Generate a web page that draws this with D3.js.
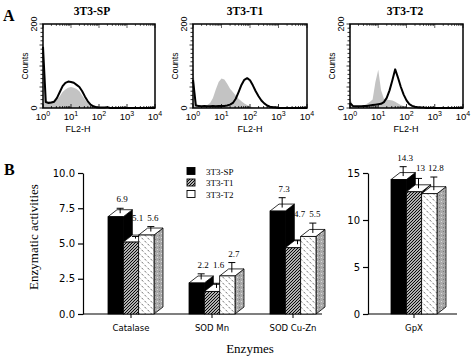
<!DOCTYPE html>
<html>
<head>
<meta charset="utf-8">
<script src="https://cdn.jsdelivr.net/npm/d3@7/dist/d3.min.js"></script>
<style>
  body { margin: 0; background: #fff; }
  svg { display: block; }
</style>
</head>
<body>
<svg id="fig" width="474" height="362"></svg>
<script>
// ---- data: panel A, flow cytometry histograms (log10 FL2-H channel vs counts)
var channels = [0, 0.1, 0.2, 0.3, 0.4, 0.5, 0.6, 0.7, 0.8, 0.9,
                1, 1.1, 1.2, 1.3, 1.4, 1.5, 1.6, 1.7, 1.8, 1.9,
                2, 2.1, 2.2, 2.3, 2.4, 2.5, 2.6, 2.7, 2.8, 2.9,
                3, 3.1, 3.2, 3.3, 3.4, 3.5, 3.6, 3.7, 3.8, 3.9, 4];

var spControl = [150, 18, 16, 16, 17, 20, 28, 38, 44, 48, 50, 48, 45, 40, 30, 20, 12, 6, 3, 1,
                 0, 0, 0, 0, 0, 0, 0, 0, 0, 0, 0, 0, 0, 0, 0, 0, 0, 0, 0, 0, 0];
var spStained = [146, 14, 12, 13, 15, 24, 38, 52, 60, 63, 62, 60, 55, 50, 40, 27, 16, 8, 4, 2,
                 1, 1, 1, 2, 0, 0, 0, 0, 0, 0, 0, 0, 0, 0, 0, 0, 0, 0, 0, 0, 0];
var t1Control = [115, 8, 5, 5, 5, 7, 12, 24, 44, 62, 70, 68, 58, 46, 38, 30, 22, 16, 11, 7,
                 4, 2, 1, 0, 0, 0, 0, 0, 0, 0, 0, 0, 0, 0, 0, 0, 0, 0, 0, 0, 0];
var t1Stained = [67, 6, 5, 4, 5, 4, 4, 5, 4, 5, 5, 5, 6, 8, 12, 22, 38, 55, 67, 71,
                 66, 54, 40, 28, 18, 11, 6, 3, 2, 1, 0, 0, 0, 0, 0, 0, 0, 0, 0, 0, 0];
var t2Control = [24, 6, 4, 4, 5, 6, 10, 14, 20, 62, 91, 42, 22, 20, 19, 18, 15, 11, 7, 4,
                 2, 1, 0, 0, 0, 0, 0, 0, 0, 0, 0, 0, 0, 0, 0, 0, 0, 0, 0, 0, 0];
var t2Stained = [12, 5, 4, 4, 4, 5, 5, 6, 7, 8, 9, 10, 14, 24, 42, 66, 92, 72, 50, 32,
                 18, 9, 5, 3, 2, 1, 1, 0, 0, 0, 0, 0, 0, 0, 0, 0, 0, 0, 0, 0, 0];

var histTitles = ["3T3-SP", "3T3-T1", "3T3-T2"];
var histControls = [spControl, t1Control, t2Control];
var histStained = [spStained, t1Stained, t2Stained];
var decades = [1, 10, 100, 1000, 10000];

// ---- data: panel B, enzymatic activities
var enzymes = ["Catalase", "SOD Mn", "SOD Cu-Zn", "GpX"];
var cellLines = ["3T3-SP", "3T3-T1", "3T3-T2"];
var spMean = [6.9, 2.2, 7.3, 14.3];
var t1Mean = [5.1, 1.6, 4.7, 13];
var t2Mean = [5.6, 2.7, 5.5, 12.8];
var spErr = [0.35, 0.4, 0.7, 1.0];
var t1Err = [0.15, 0.33, 0.3, 1.05];
var t2Err = [0.35, 0.7, 0.7, 1.4];
var leftTicks = [0, 2.5, 5, 7.5, 10];
var rightTicks = [0, 5, 10, 15];

var SERIF = "'Liberation Serif', 'Times New Roman', serif";
var SANS = "'Liberation Sans', Arial, sans-serif";
var GENEVA = "'DejaVu Sans', Verdana, sans-serif";

var svg = d3.select("#fig");
var defs = svg.append("defs");

// ---------- patterns for the 3D bars
var hatch = defs.append("pattern").attr("id", "hatch")
    .attr("patternUnits", "userSpaceOnUse").attr("width", 3).attr("height", 3);
hatch.append("rect").attr("width", 3).attr("height", 3).attr("fill", "#fff");
hatch.append("path").attr("d", "M0,3L3,0M-1,1L1,-1M2,4L4,2")
    .attr("stroke", "#000").attr("stroke-width", 1.2);

var dashes = defs.append("pattern").attr("id", "dashes")
    .attr("patternUnits", "userSpaceOnUse").attr("width", 6).attr("height", 6);
dashes.append("rect").attr("width", 6).attr("height", 6).attr("fill", "#fff");
dashes.append("path").attr("d", "M0.5,0.8L2.2,2.6M3.6,3.8L5.3,5.6")
    .attr("stroke", "#333").attr("stroke-width", 0.7);

var speckle = defs.append("pattern").attr("id", "speckle")
    .attr("patternUnits", "userSpaceOnUse").attr("width", 4).attr("height", 4);
speckle.append("rect").attr("width", 4).attr("height", 4).attr("fill", "#a9a9a9");
speckle.append("rect").attr("x", 1).attr("y", 1).attr("width", 1).attr("height", 1).attr("fill", "#dcdcdc");
speckle.append("rect").attr("x", 3).attr("y", 3).attr("width", 1).attr("height", 1).attr("fill", "#7a7a7a");

// ================= PANEL A =================
svg.append("text").attr("x", 3).attr("y", 21)
    .attr("font-family", SERIF).attr("font-weight", "bold").attr("font-size", 16).text("A");

var histBoxes = [
    { x0: 43, x1: 155, titleX: 92, axisX: 78 },
    { x0: 193, x1: 307, titleX: 245, axisX: 250 },
    { x0: 350, x1: 463, titleX: 405, axisX: 406 }
];
var boxTop = 24, boxBottom = 108;

histBoxes.forEach(function (box, i) {
    var g = svg.append("g").attr("class", "hist");
    var x = d3.scaleLog().domain([1, 10000]).range([box.x0, box.x1]);
    var y = d3.scaleLinear().domain([0, 200]).range([boxBottom, boxTop]);

    var pts = function (arr) {
        return channels.map(function (c, k) { return [Math.pow(10, c), arr[k]]; });
    };

    // control histogram, light grey fill
    g.append("path").datum(pts(histControls[i]))
        .attr("d", d3.area().x(function (d) { return x(d[0]); })
            .y0(boxBottom).y1(function (d) { return y(d[1]); }))
        .attr("fill", "#c3c3c3");

    // stained histogram, heavy black line
    g.append("path").datum(pts(histStained[i]))
        .attr("d", d3.line().x(function (d) { return x(d[0]); }).y(function (d) { return y(d[1]); }))
        .attr("fill", "none").attr("stroke", "#000").attr("stroke-width", 2)
        .attr("stroke-linejoin", "round");

    // frame
    g.append("rect").attr("x", box.x0).attr("y", boxTop)
        .attr("width", box.x1 - box.x0).attr("height", boxBottom - boxTop)
        .attr("fill", "none").attr("stroke", "#000").attr("stroke-width", 1.5);

    // log ticks along bottom and top, pointing inwards
    x.ticks().forEach(function (t) {
        var major = decades.indexOf(t) >= 0;
        var len = major ? 4 : 2;
        g.append("line").attr("x1", x(t)).attr("x2", x(t))
            .attr("y1", boxBottom).attr("y2", boxBottom - len)
            .attr("stroke", "#000").attr("stroke-width", 0.8);
        g.append("line").attr("x1", x(t)).attr("x2", x(t))
            .attr("y1", boxTop).attr("y2", boxTop + len)
            .attr("stroke", "#000").attr("stroke-width", 0.6);
    });
    // dense count ticks on the left edge
    y.ticks(20).forEach(function (t) {
        g.append("line").attr("x1", box.x0).attr("x2", box.x0 - (t % 50 === 0 ? 3.5 : 2.5))
            .attr("y1", y(t)).attr("y2", y(t))
            .attr("stroke", "#000").attr("stroke-width", 0.8);
    });

    // decade labels 10^n
    decades.forEach(function (t, n) {
        var lab = g.append("text").attr("x", x(t)).attr("y", 120)
            .attr("text-anchor", "middle").attr("font-family", SANS).attr("font-size", 9.5);
        lab.append("tspan").text("10");
        lab.append("tspan").attr("dy", -4.5).attr("font-size", 7).text(n);
    });

    // y tick labels, rotated
    [0, 200].forEach(function (t) {
        g.append("text").attr("transform", "translate(" + (box.x0 - 6) + "," + y(t) + ") rotate(-90)")
            .attr("text-anchor", "middle").attr("font-family", SANS).attr("font-size", 9).text(t);
    });
    g.append("text").attr("transform", "translate(" + (box.x0 - 15) + "," + ((boxTop + boxBottom) / 2) + ") rotate(-90)")
        .attr("text-anchor", "middle").attr("font-family", SANS).attr("font-size", 8.5).text("Counts");
    g.append("text").attr("x", box.axisX).attr("y", 132)
        .attr("text-anchor", "middle").attr("font-family", SANS).attr("font-size", 9).text("FL2-H");

    // title
    g.append("text").attr("x", box.titleX).attr("y", 15)
        .attr("text-anchor", "middle").attr("font-family", SERIF).attr("font-weight", "bold")
        .attr("font-size", 11.5).text(histTitles[i]);
});

// ================= PANEL B =================
svg.append("text").attr("x", 4).attr("y", 175)
    .attr("font-family", SERIF).attr("font-weight", "bold").attr("font-size", 16).text("B");

var base = 314, top10 = 173;
var depthX = 9, depthY = 7;
var means = [spMean, t1Mean, t2Mean];
var errs = [spErr, t1Err, t2Err];
var fronts = ["#000", "url(#hatch)", "url(#dashes)"];
var sides = ["#000", "url(#hatch)", "url(#speckle)"];

var yLeft = d3.scaleLinear().domain([0, 10]).range([base, top10]);
var yRight = d3.scaleLinear().domain([0, 15]).range([base, top10]);
var xLeft = d3.scaleBand().domain(enzymes.slice(0, 3)).range([85, 328]);
var xRight = d3.scaleBand().domain(enzymes.slice(3)).range([368, 449]);
var inner = d3.scaleBand().domain(cellLines).range([0, 46]);

function drawAxes(yScale, ticks, fmt, xScale, axisLeft, axisRight) {
    var g = svg.append("g").attr("transform", "translate(" + axisLeft + ",0)")
        .call(d3.axisLeft(yScale).tickValues(ticks).tickFormat(fmt).tickSize(5).tickSizeOuter(0));
    g.select(".domain").attr("stroke-width", 1.2);
    g.selectAll(".tick line").attr("stroke-width", 1.2);
    g.selectAll(".tick text").attr("font-family", GENEVA).attr("font-size", 10).attr("fill", "#000");

    svg.append("line").attr("x1", axisLeft).attr("x2", axisRight)
        .attr("y1", base).attr("y2", base).attr("stroke", "#000").attr("stroke-width", 1.2);

    xScale.domain().forEach(function (c) {
        var cx = xScale(c) + 23 + inner.range()[1] / 2;
        svg.append("line").attr("x1", cx).attr("x2", cx).attr("y1", base).attr("y2", base + 4)
            .attr("stroke", "#000").attr("stroke-width", 1);
        svg.append("text").attr("x", cx).attr("y", 331).attr("text-anchor", "middle")
            .attr("font-family", GENEVA).attr("font-size", 8.5).text(c);
    });
}

function drawGroup(cat, idx, xScale, yScale) {
    var g = svg.append("g").attr("class", "group");
    var x0 = xScale(cat) + 23;
    var w = inner.bandwidth();
    var capYs = [];

    cellLines.forEach(function (s, j) {
        var v = means[j][idx];
        var x = x0 + inner(s), yv = yScale(v), y0 = yScale(0);
        // side face
        g.append("path")
            .attr("d", "M" + (x + w) + "," + yv + "L" + (x + w + depthX) + "," + (yv - depthY) +
                "L" + (x + w + depthX) + "," + (y0 - depthY) + "L" + (x + w) + "," + y0 + "Z")
            .attr("fill", sides[j]).attr("stroke", "#000").attr("stroke-width", 0.8);
        // top face
        g.append("path")
            .attr("d", "M" + x + "," + yv + "L" + (x + depthX) + "," + (yv - depthY) +
                "L" + (x + w + depthX) + "," + (yv - depthY) + "L" + (x + w) + "," + yv + "Z")
            .attr("fill", "#fff").attr("stroke", "#000").attr("stroke-width", 0.8);
        // front face
        g.append("rect").attr("x", x).attr("y", yv).attr("width", w).attr("height", y0 - yv)
            .attr("fill", fronts[j]).attr("stroke", "#000").attr("stroke-width", 0.8);
    });

    // error bars from the middle of each top face
    cellLines.forEach(function (s, j) {
        var v = means[j][idx], e = errs[j][idx];
        var cx = x0 + inner(s) + w / 2 + depthX / 2;
        var cy = yScale(v) - depthY / 2;
        var capY = cy - (yScale(0) - yScale(e));
        capYs.push(capY);
        g.append("line").attr("x1", cx).attr("x2", cx).attr("y1", cy).attr("y2", capY)
            .attr("stroke", "#000").attr("stroke-width", 1);
        g.append("line").attr("x1", cx - 3.5).attr("x2", cx + 3.5).attr("y1", capY).attr("y2", capY)
            .attr("stroke", "#000").attr("stroke-width", 1);
    });

    // value labels; the middle one sits level with the lower of its neighbours
    var labY = [capYs[0] - 6, 0, capYs[2] - 6];
    labY[1] = Math.min(capYs[1] - 4, Math.max(labY[0], labY[2]));
    cellLines.forEach(function (s, j) {
        var cx = x0 + inner(s) + w / 2 + depthX / 2 + 2;
        g.append("text").attr("x", cx).attr("y", labY[j]).attr("text-anchor", "middle")
            .attr("font-family", SERIF).attr("font-size", 9).text(String(means[j][idx]));
    });
}

drawAxes(yLeft, leftTicks, d3.format(".1f"), xLeft, 83, 322);
drawAxes(yRight, rightTicks, d3.format("d"), xRight, 368, 457);

enzymes.forEach(function (c, i) {
    if (i < 3) drawGroup(c, i, xLeft, yLeft);
    else drawGroup(c, i, xRight, yRight);
});

// legend
var legend = svg.append("g").attr("class", "legend");
var legendFill = ["#000", "url(#hatch)", "#fff"];
cellLines.forEach(function (s, j) {
    var cy = 171 + j * 11.5;
    legend.append("rect").attr("x", 187).attr("y", cy - 3.5).attr("width", 8).attr("height", 7)
        .attr("fill", legendFill[j]).attr("stroke", "#000").attr("stroke-width", 0.9);
    legend.append("text").attr("x", 206).attr("y", cy + 3.5)
        .attr("font-family", SERIF).attr("font-size", 9).text(s);
});

// axis titles
svg.append("text").attr("transform", "translate(38,237) rotate(-90)")
    .attr("text-anchor", "middle").attr("font-family", SERIF).attr("font-size", 13)
    .text("Enzymatic activities");
svg.append("text").attr("x", 250).attr("y", 353).attr("text-anchor", "middle")
    .attr("font-family", SERIF).attr("font-size", 13).text("Enzymes");
</script>
</body>
</html>
